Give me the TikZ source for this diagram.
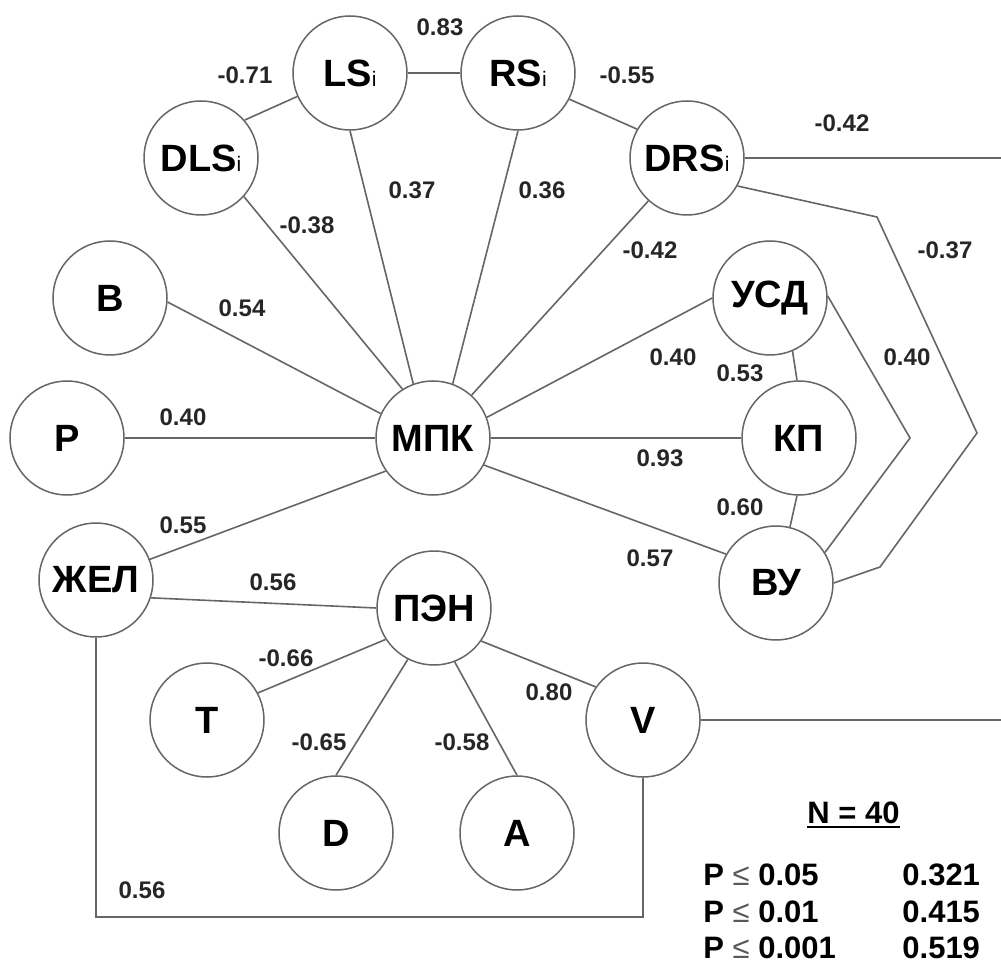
\documentclass[tikz,border=0pt]{standalone}
\usepackage{fontspec}
\setmainfont{Liberation Sans}
\definecolor{linec}{gray}{0.4}
\definecolor{leq}{gray}{0.35}
\newcommand\subidx{{\fontsize{10.5}{10.5}\selectfont\mdseries i}}
\begin{document}
\begin{tikzpicture}[x=0.5pt, y=-0.5pt,
  var/.style={circle, draw=linec, line width=0.75pt, minimum size=57pt,
    inner sep=0pt, font=\fontsize{19}{19}\selectfont\bfseries},
  link/.style={draw=linec, line width=0.8pt},
  coef/.style={inner sep=0pt, text=black!85, font=\fontsize{12}{12}\selectfont\bfseries},
  legend/.style={inner sep=0pt, anchor=base west,
    font=\fontsize{15.5}{15.5}\selectfont\bfseries}]

\fill[white] (0,0) rectangle (1001,962);
\useasboundingbox (0,0) rectangle (1001,962);

% variables
\node[var] (LS)  at (350,73)  {LS\subidx};
\node[var] (RS)  at (518,73)  {RS\subidx};
\node[var] (DLS) at (201,158) {DLS\subidx};
\node[var] (DRS) at (687,158) {DRS\subidx};
\node[var] (B)   at (110,298) {B};
\node[var] (P)   at (67,438)  {P};
\node[var] (MPK) at (433,438) {МПК};
\node[var] (USD) at (770,298) {УСД};
\node[var] (KP)  at (799,438) {КП};
\node[var] (ZhEL) at (96,580) {ЖЕЛ};
\node[var] (VU)  at (776,583) {ВУ};
\node[var] (PEN) at (434,608) {ПЭН};
\node[var] (T)   at (207,720) {T};
\node[var] (V)   at (643,720) {V};
\node[var] (D)   at (336,833) {D};
\node[var] (A)   at (517,833) {A};

% bend points and free ends
\coordinate (eTop) at (1001,159);
\coordinate (eBot) at (1001,719);
\coordinate (o1) at (877,217);
\coordinate (o2) at (977,433);
\coordinate (o3) at (880,567);
\coordinate (i1) at (910,438);
\coordinate (loop) at (0,917);

% links
\draw[link] (LS.east) -- (RS.west);
\draw[link] (LS.204) -- (DLS.41);
\draw[link] (RS.-27) -- (DRS.150);
\draw[link] (DLS.-42) -- (MPK.122);
\draw[link] (LS.-90) -- (MPK.110);
\draw[link] (RS.-90) -- (MPK.70);
\draw[link] (DRS.228) -- (MPK.48);
\draw[link] (B.-4) -- (MPK.155);
\draw[link] (P.east) -- (MPK.west);
\draw[link] (ZhEL.21) -- (MPK.215);
\draw[link] (ZhEL.-18) -- (PEN.180);
\draw[link] (MPK.21) -- (USD.180);
\draw[link] (MPK.east) -- (KP.west);
\draw[link] (MPK.-28) -- (VU.150);
\draw[link] (USD.-67) -- (KP.92);
\draw[link] (KP.-92) -- (VU.76);
\draw[link] (USD.2) -- (i1) -- (VU.32);
\draw[link] (DRS.-29) -- (o1) -- (o2) -- (o3) -- (VU.0);
\draw[link] (DRS.east) -- (DRS.east -| eTop);
\draw[link] (V.east) -- (V.east -| eBot);
\draw[link] (ZhEL.south) -- (ZhEL.south |- loop) -- (V.south |- loop) -- (V.south);
\draw[link] (PEN.213) -- (T.28);
\draw[link] (PEN.-117) -- (D.90);
\draw[link] (PEN.-69) -- (A.90);
\draw[link] (PEN.-35) -- (V.145);

% coefficients
\node[coef] (c1)  at (440,27)  {0.83};
\node[coef] (c2)  at (245,75)  {-0.71};
\node[coef] (c3)  at (627,75)  {-0.55};
\node[coef] (c4)  at (842,123) {-0.42};
\node[coef] (c5)  at (945,250) {-0.37};
\node[coef] (c6)  at (907,357) {0.40};
\node[coef] (c7)  at (412,190) {0.37};
\node[coef] (c8)  at (542,190) {0.36};
\node[coef] (c9)  at (307,225) {-0.38};
\node[coef] (c10) at (650,250) {-0.42};
\node[coef] (c11) at (242,308) {0.54};
\node[coef] (c12) at (183,417) {0.40};
\node[coef] (c13) at (673,357) {0.40};
\node[coef] (c14) at (740,373) {0.53};
\node[coef] (c15) at (660,458) {0.93};
\node[coef] (c16) at (740,507) {0.60};
\node[coef] (c17) at (650,558) {0.57};
\node[coef] (c18) at (183,525) {0.55};
\node[coef] (c19) at (273,582) {0.56};
\node[coef] (c20) at (286,658) {-0.66};
\node[coef] (c21) at (319,742) {-0.65};
\node[coef] (c22) at (462,742) {-0.58};
\node[coef] (c23) at (549,692) {0.80};
\node[coef] (c24) at (142,890) {0.56};

% significance thresholds
\node[legend] (N) at (807,823) {N = 40};
\draw[line width=1pt] ([yshift=-2pt]N.base west) -- ([yshift=-2pt]N.base east);
\node[legend] (p1) at (703,885) {P {\mdseries\color{leq}≤} 0.05};
\node[legend] (p2) at (703,922) {P {\mdseries\color{leq}≤} 0.01};
\node[legend] (p3) at (703,958) {P {\mdseries\color{leq}≤} 0.001};
\node[legend] (r1) at (902,885) {0.321};
\node[legend] (r2) at (902,922) {0.415};
\node[legend] (r3) at (902,958) {0.519};
\end{tikzpicture}
\end{document}
